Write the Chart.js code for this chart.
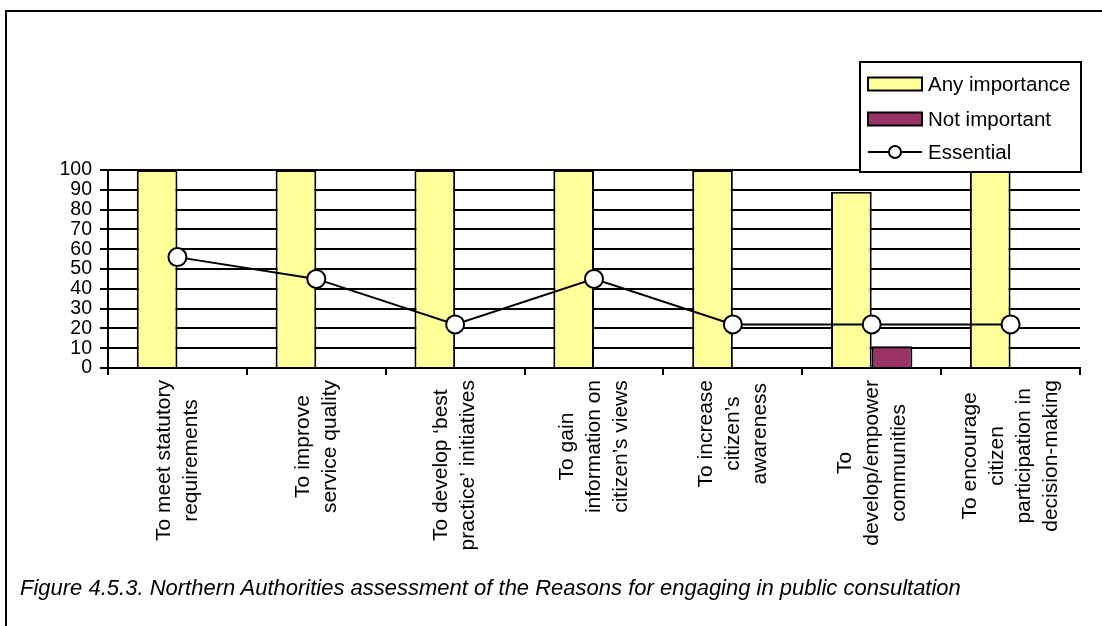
<!DOCTYPE html>
<html>
<head>
<meta charset="utf-8">
<title>Reasons for engaging in public consultation</title>
<script src="https://cdn.jsdelivr.net/npm/chart.js@4.4.1/dist/chart.umd.min.js"></script>
<style>
  html, body { margin: 0; padding: 0; background: #fff; }
  #wrap { position: relative; width: 1102px; height: 626px; overflow: hidden; }
  #frame { position: absolute; left: 5px; top: 10px; right: -10px; bottom: -10px;
           border-top: 2px solid #000; border-left: 2px solid #000; }
  canvas { position: absolute; left: 0; top: 0; }
  #caption { position: absolute; left: 20px; top: 575px; white-space: nowrap; color: #000;
             font: italic 22px "Liberation Sans", Arial, sans-serif; }
</style>
</head>
<body>
<div id="wrap">
  <div id="frame"></div>
  <canvas id="c" width="1102" height="626"></canvas>
  <div id="caption">Figure 4.5.3. Northern Authorities assessment of the Reasons for engaging in public consultation</div>
</div>
<script>
// Reasons (each entry is the wrapped label, one string per line)
const categories = [
  ['To meet statutory', 'requirements'],
  ['To improve', 'service quality'],
  ['To develop \u2018best', 'practice\u2019 initiatives'],
  ['To gain', 'information on', 'citizen\u2019s views'],
  ['To increase', 'citizen\u2019s', 'awareness'],
  ['To', 'develop/empower', 'communities'],
  ['To encourage', 'citizen', 'participation in', 'decision-making']
];
// Percentages of authorities
const anyImportance = [100, 100, 100, 100, 100, 89, 100];
const notImportant  = [0, 0, 0, 0, 0, 11, 0];
const essential     = [56, 45, 22, 45, 22, 22, 22];
// Value axis ticks
const yTickValues = [0, 10, 20, 30, 40, 50, 60, 70, 80, 90, 100];

const FONT = '"Liberation Sans", Arial, Helvetica, sans-serif';

// Rotated, centre-justified multi-line category labels under the axis
const categoryLabels = {
  id: 'categoryLabels',
  afterDraw(chart) {
    const ctx = chart.ctx, xs = chart.scales.x, top = chart.chartArea.bottom;
    const lineGap = 27, gap = 12;
    ctx.save();
    ctx.font = '21px ' + FONT;
    ctx.fillStyle = '#000';
    ctx.textAlign = 'center';
    ctx.textBaseline = 'middle';
    chart.data.labels.forEach((lines, i) => {
      const x = xs.getPixelForValue(i);
      const w = Math.max(...lines.map(l => ctx.measureText(l).width));
      const cy = top + gap + w / 2;
      lines.forEach((ln, j) => {
        const off = (j - (lines.length - 1) / 2) * lineGap;
        ctx.save();
        ctx.translate(x + off, cy);
        ctx.rotate(-Math.PI / 2);
        ctx.fillText(ln, 0, 0);
        ctx.restore();
      });
    });
    ctx.restore();
  }
};

// Boxed legend in the upper right corner, overlapping the plot top
const boxLegend = {
  id: 'boxLegend',
  afterDraw(chart) {
    const ctx = chart.ctx, a = chart.chartArea;
    const R = a.right + 1, B = a.top + 2, L = R - 221, T = B - 110;
    ctx.save();
    ctx.fillStyle = '#fff';
    ctx.fillRect(L, T, R - L, B - T);
    ctx.strokeStyle = '#000';
    ctx.lineWidth = 2;
    ctx.strokeRect(L, T, R - L, B - T);
    ctx.font = '20.5px ' + FONT;
    ctx.textAlign = 'left';
    ctx.textBaseline = 'alphabetic';
    const rows = [T + 22, T + 57, T + 90];
    chart.data.datasets.forEach((d, i) => {
      const cy = rows[i];
      if (d.type === 'line') {
        ctx.strokeStyle = '#000';
        ctx.lineWidth = 2;
        ctx.beginPath(); ctx.moveTo(L + 8, cy); ctx.lineTo(L + 62, cy); ctx.stroke();
        ctx.beginPath(); ctx.arc(L + 35, cy, 6, 0, Math.PI * 2);
        ctx.fillStyle = '#fff'; ctx.fill(); ctx.stroke();
      } else {
        ctx.fillStyle = d.backgroundColor;
        ctx.fillRect(L + 8, cy - 6.5, 54, 13);
        ctx.strokeStyle = '#000';
        ctx.lineWidth = 2;
        ctx.strokeRect(L + 8, cy - 6.5, 54, 13);
      }
      ctx.fillStyle = '#000';
      ctx.fillText(d.label, L + 68, cy + 7);
    });
    ctx.restore();
  }
};

new Chart(document.getElementById('c'), {
  type: 'bar',
  data: {
    labels: categories,
    datasets: [
      { label: 'Any importance', data: anyImportance, backgroundColor: '#FFFF99',
        borderColor: '#000', borderWidth: 2, order: 2,
        categoryPercentage: 0.586, barPercentage: 1.0 },
      { label: 'Not important', data: notImportant, backgroundColor: '#993366',
        borderColor: '#000', borderWidth: 2, order: 2,
        categoryPercentage: 0.586, barPercentage: 1.0 },
      { type: 'line', label: 'Essential', data: essential, borderColor: '#000', borderWidth: 2,
        pointRadius: 9, pointBackgroundColor: '#fff', pointBorderColor: '#000',
        pointBorderWidth: 2, tension: 0, fill: false, order: 0 }
    ]
  },
  options: {
    responsive: false,
    animation: false,
    layout: { padding: { left: 0, top: 170, right: 22, bottom: 0 } },
    plugins: { legend: { display: false }, tooltip: { enabled: false } },
    scales: {
      x: {
        offset: true,
        ticks: { display: false },
        grid: { offset: true, drawOnChartArea: false, drawTicks: true, tickLength: 7,
                color: '#000', lineWidth: 2 },
        border: { display: true, color: '#000', width: 2 },
        afterFit(scale) { scale.height = 258; }
      },
      y: {
        min: 0, max: 100,
        afterBuildTicks(scale) { scale.ticks = yTickValues.map(v => ({ value: v })); },
        ticks: { color: '#000', font: { family: FONT, size: 19.5 }, padding: 8, autoSkip: false },
        grid: { color: '#000', lineWidth: 2, tickLength: 8, drawTicks: true },
        border: { display: true, color: '#000', width: 2 },
        afterFit(scale) { scale.width = 108; }
      }
    }
  },
  plugins: [categoryLabels, boxLegend]
});
</script>
</body>
</html>
